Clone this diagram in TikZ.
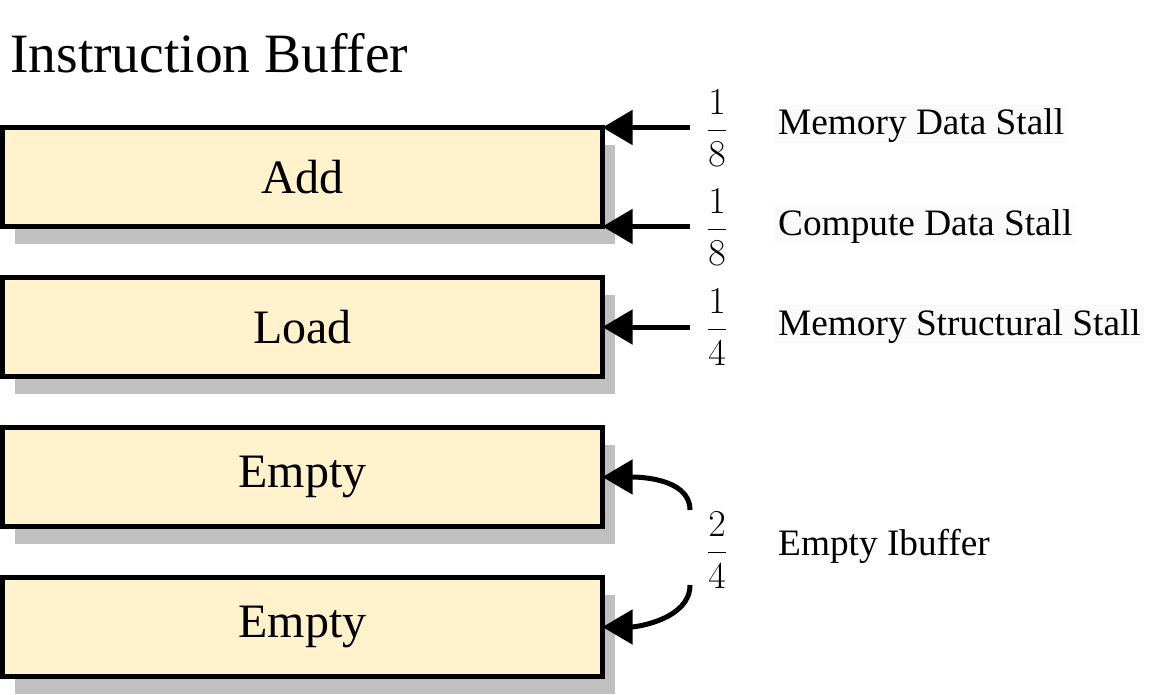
\RequirePackage{fix-cm}
\documentclass[tikz,border=0pt]{standalone}
\usepackage{fontspec}
\setmainfont{Liberation Serif}
\usetikzlibrary{arrows.meta,backgrounds}
\definecolor{boxfill}{HTML}{FFF2CC}
\definecolor{shadowgray}{HTML}{C0C0C0}
\definecolor{labelbg}{HTML}{FAFAFA}
\tikzset{
  ibox/.style={draw=black, line width=5pt, fill=boxfill, rectangle,
    minimum width=600pt, minimum height=99pt, inner sep=0pt, outer sep=0pt,
    font=\fontsize{48}{56}\selectfont},
  frac/.style={inner sep=13pt, outer sep=0pt, font=\fontsize{38}{44}\selectfont},
  stall/.style={anchor=west, inner xsep=3pt, inner ysep=0pt, text height=30pt, text depth=8pt,
    font=\fontsize{37.3}{44}\selectfont},
  stallbg/.style={stall, fill=labelbg},
  conn/.style={line width=5pt, -{Triangle[length=30pt,width=34pt]}}
}
\begin{document}
\begin{tikzpicture}[x=1pt,y=-1pt]
\useasboundingbox (0,0) rectangle (1155,695);
\node[anchor=base west, inner sep=0pt, font=\fontsize{55.5}{64}\selectfont] (title) at (10,73) {Instruction Buffer};
\node[ibox] (b1) at (302.5,177) {Add};
\node[ibox] (b2) at (302.5,327) {Load};
\node[ibox] (b3) at (302.5,477) {Empty};
\node[ibox] (b4) at (302.5,627) {Empty};
\begin{pgfonlayer}{background}
  \foreach \b in {b1,b2,b3,b4}{
    \fill[shadowgray] ([shift={(12.5,17.5)}]\b.north west) rectangle ([shift={(12.5,17.5)}]\b.south east);
  }
\end{pgfonlayer}
\node[frac] (f1) at (717,128) {$\displaystyle\frac{1}{8}$};
\node[frac] (f2) at (717,227) {$\displaystyle\frac{1}{8}$};
\node[frac] (f3) at (717,327) {$\displaystyle\frac{1}{4}$};
\node[frac] (f4) at (717,550) {$\displaystyle\frac{2}{4}$};
\coordinate (s1) at (690,127.5);
\coordinate (s2) at (690,226.5);
\coordinate (s3) at (690,327);
\coordinate (s4) at (690,510);
\coordinate (s5) at (690,585);
\draw[conn] (s1) -- (b1.north east);
\draw[conn] (s2) -- (b1.south east);
\draw[conn] (s3) -- (b2.east);
\draw[conn] (s4) to[out=90,in=0,looseness=0.9] (b3.east);
\draw[conn] (s5) to[out=-90,in=0,looseness=0.9] (b4.east);
\node[stallbg] (l1) at (775,124) {Memory Data Stall};
\node[stallbg] (l2) at (775,224) {Compute Data Stall};
\node[stallbg] (l3) at (775,324) {Memory Structural Stall};
\node[stall] (l4) at (775,544) {Empty Ibuffer};
\end{tikzpicture}
\end{document}
